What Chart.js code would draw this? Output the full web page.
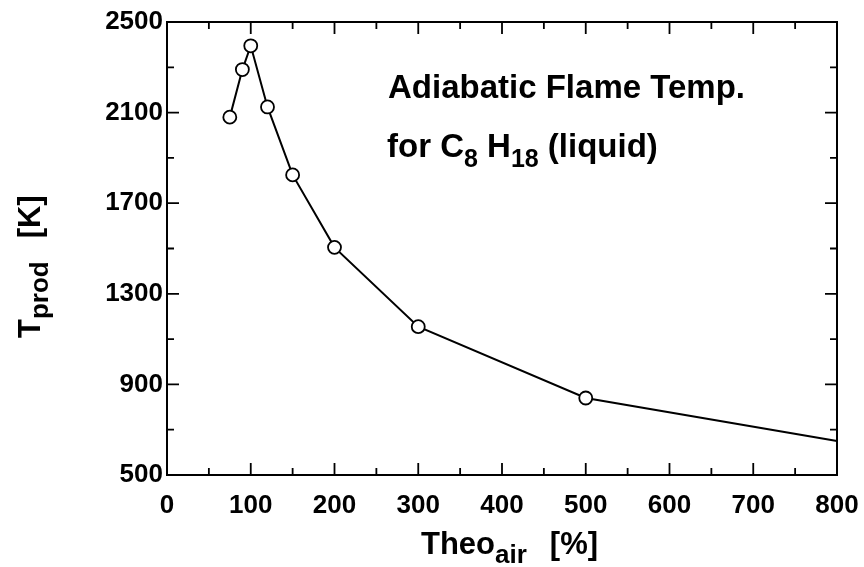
<!DOCTYPE html>
<html><head><meta charset="utf-8">
<script src="https://cdn.jsdelivr.net/npm/chart.js@4/dist/chart.umd.min.js"></script>
<style>html,body{margin:0;padding:0;background:#fff}canvas{display:block}</style>
</head><body>
<canvas id="c" width="864" height="567"></canvas>
<script>
// ---- data ----
const theoAir = [75, 90, 100, 120, 150, 200, 300, 500, 800];
const tProd   = [2080, 2290, 2395, 2125, 1825, 1505, 1155, 840, 650];
const markerShown = [true, true, true, true, true, true, true, true, false];
const xMajorTicks = [0, 100, 200, 300, 400, 500, 600, 700, 800];
const xMinorTicks = [50, 150, 250, 350, 450, 550, 650, 750];
const yMajorTicks = [500, 900, 1300, 1700, 2100, 2500];
const yMinorTicks = [700, 1100, 1500, 1900, 2300];
const xTitle = [["Theo", "main"], ["air", "sub"], ["   ", "gap"], ["[%]", "main"]];
const yTitle = [["T", "main"], ["prod", "sub"], ["   ", "gap"], ["[K]", "main"]];
const noteLine1 = [["Adiabatic Flame Temp.", "main"]];
const noteLine2 = [["for C", "main"], ["8", "sub"], [" H", "main"], ["18", "sub"], [" (liquid)", "main"]];

const FF = '"Liberation Sans", Arial, sans-serif';

function drawParts(ctx, parts, x, y, mainSize, subSize, subDrop, gap) {
  let cx = x;
  for (const [t, kind] of parts) {
    if (kind === "gap") { cx += gap; continue; }
    const size = kind === "sub" ? subSize : mainSize;
    ctx.font = "bold " + size + "px " + FF;
    ctx.fillText(t, cx, kind === "sub" ? y + subDrop : y);
    cx += ctx.measureText(t).width;
  }
}

const decor = {
  id: "decor",
  afterDraw(chart) {
    const ctx = chart.ctx, a = chart.chartArea;
    const xs = chart.scales.x, ys = chart.scales.y;
    ctx.save();
    ctx.strokeStyle = "#000";
    ctx.fillStyle = "#000";
    ctx.lineWidth = 2;
    ctx.strokeRect(a.left, a.top, a.right - a.left, a.bottom - a.top);
    ctx.lineWidth = 1.8;
    ctx.beginPath();
    const xt = (v, len) => {
      const p = xs.getPixelForValue(v);
      ctx.moveTo(p, a.bottom); ctx.lineTo(p, a.bottom - len);
      ctx.moveTo(p, a.top); ctx.lineTo(p, a.top + len);
    };
    const yt = (v, len) => {
      const p = ys.getPixelForValue(v);
      ctx.moveTo(a.left, p); ctx.lineTo(a.left + len, p);
      ctx.moveTo(a.right, p); ctx.lineTo(a.right - len, p);
    };
    xMajorTicks.forEach(v => xt(v, 12));
    xMinorTicks.forEach(v => xt(v, 7));
    yMajorTicks.forEach(v => yt(v, 12));
    yMinorTicks.forEach(v => yt(v, 7));
    ctx.stroke();

    ctx.textBaseline = "alphabetic";
    ctx.textAlign = "left";
    // x title
    drawParts(ctx, xTitle, a.left + 254, 554, 31, 26, 9, 23);
    // y title (rotated)
    ctx.save();
    ctx.translate(40, 338);
    ctx.rotate(-Math.PI / 2);
    drawParts(ctx, yTitle, 0, 0, 31, 26, 8, 23);
    ctx.restore();
    // annotation
    drawParts(ctx, noteLine1, 388, 98, 33, 25, 10, 0);
    drawParts(ctx, noteLine2, 387, 157, 33, 25, 10, 0);
    ctx.restore();
  }
};

new Chart(document.getElementById("c"), {
  type: "scatter",
  data: {
    datasets: [{
      data: theoAir.map((x, i) => ({ x, y: tProd[i] })),
      showLine: true,
      borderColor: "#000",
      borderWidth: 2,
      tension: 0,
      pointRadius: markerShown.map(s => s ? 6.5 : 0),
      pointBackgroundColor: "#fff",
      pointBorderColor: "#000",
      pointBorderWidth: 1.8,
      clip: false
    }]
  },
  options: {
    responsive: false,
    animation: false,
    layout: { padding: { top: 22, right: 27, left: 0, bottom: 0 } },
    plugins: { legend: { display: false }, tooltip: { enabled: false } },
    scales: {
      x: {
        type: "linear", min: 0, max: 800,
        afterBuildTicks: s => { s.ticks = xMajorTicks.map(v => ({ value: v })); },
        afterFit: s => { s.height = 92; s.paddingLeft = 0; s.paddingRight = 0; },
        grid: { display: false, drawTicks: false },
        border: { display: false },
        ticks: { color: "#000", padding: 15, maxRotation: 0, autoSkip: false,
                 callback: v => String(v),
                 font: { family: FF, size: 26, weight: "bold" } }
      },
      y: {
        type: "linear", min: 500, max: 2500,
        afterBuildTicks: s => { s.ticks = yMajorTicks.map(v => ({ value: v })); },
        afterFit: s => { s.width = 167; s.paddingTop = 0; s.paddingBottom = 0; },
        grid: { display: false, drawTicks: false },
        border: { display: false },
        ticks: { color: "#000", padding: 4, autoSkip: false,
                 callback: v => String(v),
                 font: { family: FF, size: 26, weight: "bold" } }
      }
    }
  },
  plugins: [decor]
});
</script>
</body></html>
